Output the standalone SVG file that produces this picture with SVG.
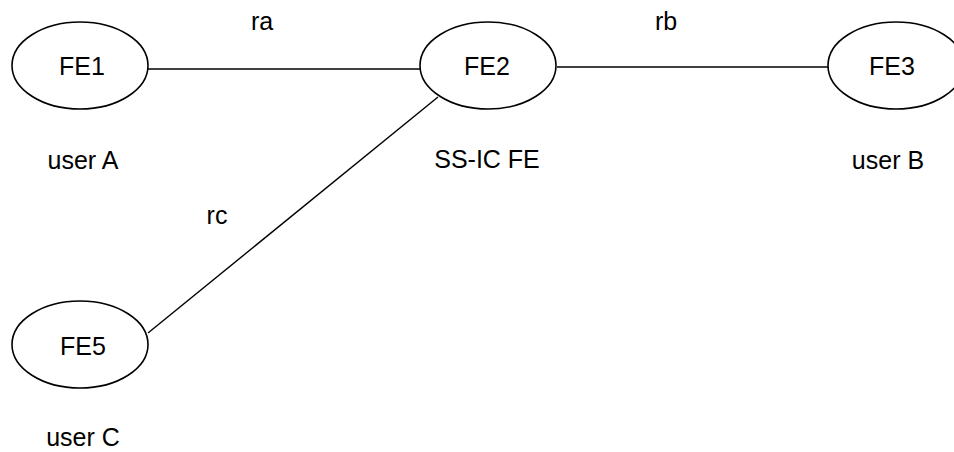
<svg xmlns="http://www.w3.org/2000/svg" width="954" height="452" viewBox="0 0 954 452">
<style>
.node{fill:#fff;stroke:#000;stroke-width:1.6}
.edge{stroke:#000;stroke-width:1.4;fill:none}
text{font-family:"Liberation Sans",Arial,sans-serif;font-size:25px;fill:#000;text-anchor:middle}
</style>
<rect width="954" height="452" fill="#fff"/>
<g id="connectors">
<line class="edge" x1="148" y1="69" x2="420" y2="69"/>
<line class="edge" x1="557" y1="67" x2="828" y2="67"/>
<line class="edge" x1="438" y1="97" x2="148" y2="333"/>
</g>
<g id="FE1">
<ellipse class="node" cx="80" cy="65.5" rx="68" ry="43.5"/>
<text x="82" y="75">FE1</text>
</g>
<g id="FE2">
<ellipse class="node" cx="488" cy="65.5" rx="68" ry="43.5"/>
<text x="487" y="75">FE2</text>
</g>
<g id="FE3">
<ellipse class="node" cx="896" cy="65.5" rx="68" ry="43.5"/>
<text x="892" y="75">FE3</text>
</g>
<g id="FE5">
<ellipse class="node" cx="80" cy="344.5" rx="68" ry="43.5"/>
<text x="83" y="355">FE5</text>
</g>
<g id="labels">
<text x="262" y="30">ra</text>
<text x="666" y="30">rb</text>
<text x="217" y="224">rc</text>
<text x="83" y="169">user A</text>
<text x="487" y="168">SS-IC FE</text>
<text x="888" y="169">user B</text>
<text x="83" y="446">user C</text>
</g>
</svg>
